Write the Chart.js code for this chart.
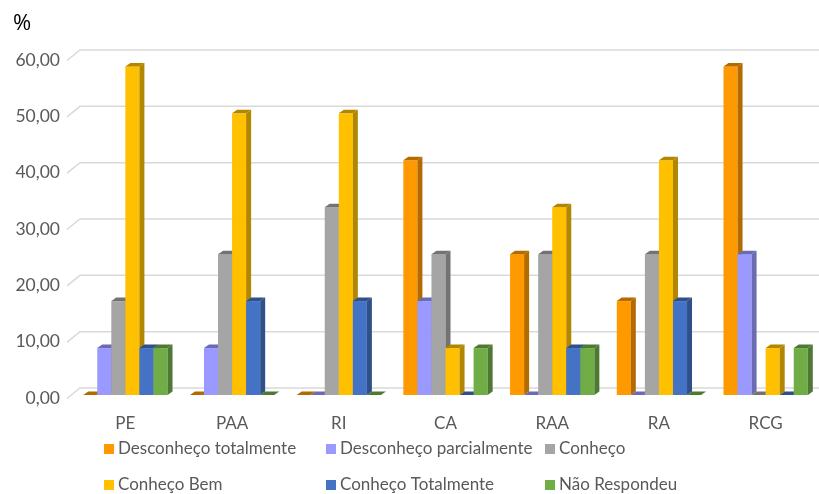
<!DOCTYPE html>
<html>
<head>
<meta charset="utf-8">
<script src="https://cdn.jsdelivr.net/npm/chart.js@4/dist/chart.umd.min.js"></script>
<style>
  html, body { margin: 0; padding: 0; background: #ffffff; }
  #wrap { position: relative; width: 819px; height: 494px; }
</style>
</head>
<body>
<div id="wrap"><canvas id="c" width="819" height="494"></canvas></div>
<script>
// Categories and percentages per answer option
const categories = ['PE', 'PAA', 'RI', 'CA', 'RAA', 'RA', 'RCG'];
const seriesNames = ['Desconheço totalmente', 'Desconheço parcialmente', 'Conheço',
                     'Conheço Bem', 'Conheço Totalmente', 'Não Respondeu'];
const desconhecoTotalmente   = [0, 0, 0, 41.67, 25, 16.67, 58.33];
const desconhecoParcialmente = [8.33, 8.33, 0, 16.67, 0, 0, 25];
const conheco                = [16.67, 25, 33.33, 25, 25, 25, 0];
const conhecoBem             = [58.33, 50, 50, 8.33, 33.33, 41.67, 8.33];
const conhecoTotalmente      = [8.33, 16.67, 16.67, 0, 8.33, 16.67, 0];
const naoRespondeu           = [8.33, 0, 0, 8.33, 8.33, 0, 8.33];
const yTicks = [0, 10, 20, 30, 40, 50, 60];

const seriesValues = [desconhecoTotalmente, desconhecoParcialmente, conheco,
                      conhecoBem, conhecoTotalmente, naoRespondeu];
const faceColors = ['#FF9900', '#9999FF', '#A5A5A5', '#FFC000', '#4472C4', '#70AD47'];
const sideColors = ['#B36B00', '#6B6BB3', '#737373', '#B38600', '#2F5089', '#4E7932'];

const FONT = 'Lato, "Noto Sans", sans-serif';
const TEXT = '#595959';
const DX = 5, DY = 3.5;        // depth of the bars
const WX = 8, WY = 7;          // depth of the back wall

const fmt = v => Number(v).toFixed(2).replace('.', ',');

// Back wall grid with the slanted front edge
const wallGrid = {
  id: 'wallGrid',
  beforeDatasetsDraw(chart) {
    const { ctx, chartArea } = chart;
    const ys = chart.scales.y;
    ctx.save();
    ctx.strokeStyle = '#D9D9D9';
    ctx.lineWidth = 1.5;
    yTicks.forEach(v => {
      const py = ys.getPixelForValue(v);
      ctx.beginPath();
      ctx.moveTo(chartArea.left - 5, py + 3.5);
      ctx.lineTo(chartArea.left + WX, py - WY);
      ctx.lineTo(chart.width, py - WY);
      ctx.stroke();
    });
    ctx.restore();
  }
};

// Bars drawn as boxes: front face, right side and top, left to right
const boxBars = {
  id: 'boxBars',
  beforeDatasetDraw() { return false; },
  afterDatasetsDraw(chart) {
    const ctx = chart.ctx;
    ctx.save();
    for (let c = 0; c < categories.length; c++) {
      chart.data.datasets.forEach((ds, i) => {
        const meta = chart.getDatasetMeta(i);
        const el = meta.data[c];
        if (!el) return;
        const { x, y, base, width } = el.getProps(['x', 'y', 'base', 'width'], true);
        const x0 = x - width / 2, x1 = x + width / 2;
        ctx.fillStyle = ds.backgroundColor;
        if (base - y > 0.5) ctx.fillRect(x0, y, width, base - y);
        ctx.fillStyle = ds.sideColor;
        if (base - y > 0.5) {
          ctx.beginPath();
          ctx.moveTo(x1, y); ctx.lineTo(x1 + DX, y - DY);
          ctx.lineTo(x1 + DX, base - DY); ctx.lineTo(x1, base);
          ctx.closePath(); ctx.fill();
        }
        ctx.beginPath();
        ctx.moveTo(x0, y); ctx.lineTo(x0 + DX, y - DY);
        ctx.lineTo(x1 + DX, y - DY); ctx.lineTo(x1, y);
        ctx.closePath(); ctx.fill();
      });
    }
    ctx.restore();
  }
};

// Unit label and two-row legend
const extras = {
  id: 'extras',
  afterDraw(chart) {
    const ctx = chart.ctx;
    ctx.save();
    ctx.fillStyle = '#000000';
    ctx.font = '22px "Open Sans", sans-serif';
    ctx.textBaseline = 'middle';
    ctx.textAlign = 'left';
    ctx.fillText('%', 13, 24);
    const cols = [104, 326, 545];
    const rows = [449, 485];
    ctx.font = '17px ' + FONT;
    chart.data.datasets.forEach((ds, i) => {
      const cx = cols[i % 3], cy = rows[Math.floor(i / 3)];
      ctx.fillStyle = ds.backgroundColor;
      ctx.fillRect(cx, cy - 5, 10, 10);
      ctx.fillStyle = TEXT;
      ctx.fillText(ds.label, cx + 14, cy);
    });
    ctx.restore();
  }
};

new Chart(document.getElementById('c'), {
  type: 'bar',
  data: {
    labels: categories,
    datasets: seriesNames.map((name, i) => ({
      label: name,
      data: seriesValues[i],
      backgroundColor: faceColors[i],
      sideColor: sideColors[i],
      borderWidth: 0,
      barPercentage: 1,
      categoryPercentage: 0.79
    }))
  },
  options: {
    responsive: false,
    animation: false,
    layout: { padding: { top: 57, right: 0, bottom: 59, left: 0 } },
    plugins: { legend: { display: false }, tooltip: { enabled: false } },
    scales: {
      x: {
        grid: { display: false, drawTicks: false },
        border: { display: false },
        ticks: { color: TEXT, font: { family: FONT, size: 17 }, padding: 18 },
        afterFit(s) { s.height = 40; }
      },
      y: {
        min: 0, max: 60,
        grid: { display: false, drawTicks: false },
        border: { display: false },
        afterBuildTicks(s) { s.ticks = yTicks.map(v => ({ value: v })); },
        ticks: {
          color: TEXT, font: { family: FONT, size: 17.5 }, padding: 12,
          labelOffset: 3, callback: v => fmt(v)
        },
        afterFit(s) { s.width = 72; }
      }
    }
  },
  plugins: [wallGrid, boxBars, extras]
});
</script>
</body>
</html>
